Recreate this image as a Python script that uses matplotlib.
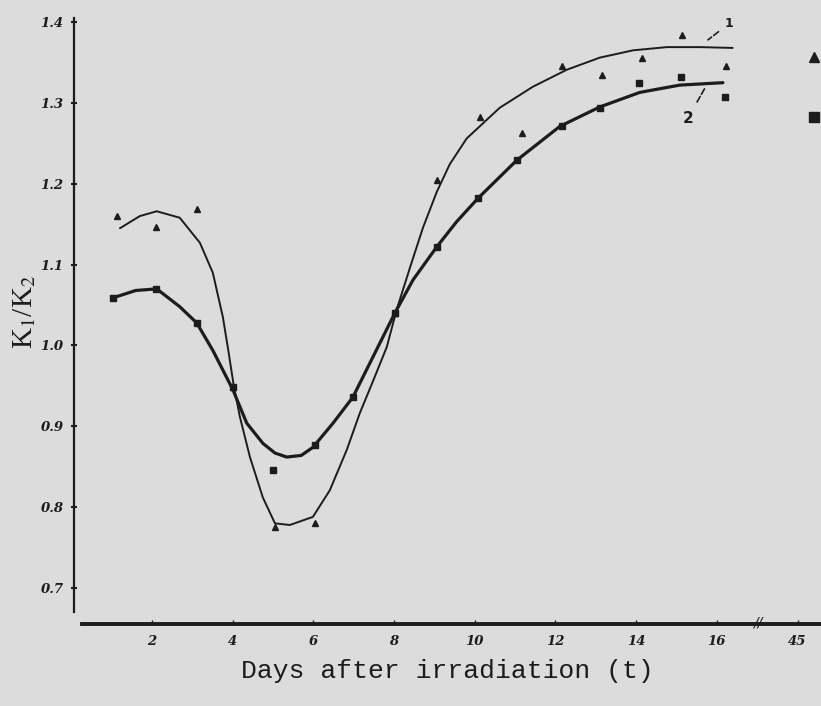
import matplotlib.pyplot as plt
from matplotlib.lines import Line2D

# measured points (days after irradiation, K1/K2)
days1 = [1.13, 2.10, 3.11, 4.01, 5.05, 6.04, 8.02, 9.06, 10.13, 11.17, 12.16, 13.15, 14.14, 15.13, 16.22]
vals1 = [1.160, 1.146, 1.169, 0.949, 0.775, 0.780, 1.040, 1.205, 1.283, 1.263, 1.346, 1.334, 1.355, 1.384, 1.346]

days2 = [1.04, 2.10, 3.11, 4.01, 5.00, 6.04, 6.98, 8.02, 9.06, 10.08, 11.04, 12.16, 13.10, 14.07, 15.11, 16.19]
vals2 = [1.059, 1.070, 1.028, 0.949, 0.846, 0.877, 0.936, 1.040, 1.122, 1.182, 1.229, 1.271, 1.294, 1.325, 1.332, 1.307]

# hand drawn curves
curve1_days = [1.21, 1.70, 2.12, 2.69, 3.19, 3.51, 3.76, 3.90, 4.03, 4.18, 4.43, 4.75, 5.05, 5.42,
               5.99, 6.41, 6.83, 7.15, 7.48, 7.82, 8.07, 8.40, 8.72, 9.06, 9.38, 9.80, 10.62,
               11.44, 12.28, 13.10, 13.92, 14.76, 15.58, 16.39]
curve1_vals = [1.145, 1.160, 1.166, 1.158, 1.127, 1.090, 1.035, 0.992, 0.950, 0.912, 0.862, 0.812,
               0.780, 0.778, 0.788, 0.821, 0.871, 0.916, 0.956, 0.998, 1.045, 1.097, 1.146, 1.190,
               1.224, 1.256, 1.294, 1.320, 1.341, 1.356, 1.365, 1.369, 1.369, 1.368]

curve2_days = [1.04, 1.6, 2.12, 2.69, 3.11, 3.51, 4.01, 4.35, 4.75, 5.05, 5.34, 5.70, 5.99, 6.49,
               6.98, 7.48, 8.02, 8.47, 9.06, 9.55, 10.08, 11.04, 12.11, 13.10, 14.09, 15.08, 16.15]
curve2_vals = [1.059, 1.068, 1.070, 1.048, 1.028, 0.994, 0.945, 0.904, 0.879, 0.867, 0.862, 0.864,
               0.874, 0.904, 0.936, 0.986, 1.040, 1.081, 1.122, 1.153, 1.182, 1.229, 1.271, 1.295,
               1.313, 1.322, 1.325]

xticks = [2, 4, 6, 8, 10, 12, 14, 16, 18]
xtick_labels = ['2', '4', '6', '8', '10', '12', '14', '16', '45']
yticks = [0.7, 0.8, 0.9, 1.0, 1.1, 1.2, 1.3, 1.4]
ytick_labels = ['0.7', '0.8', '0.9', '1.0', '1.1', '1.2', '1.3', '1.4']

ink = '#1c1c1c'
paper = '#dcdcdc'

plt.rcParams['mathtext.fontset'] = 'stix'

fig = plt.figure(figsize=(8.21, 7.06), dpi=100, facecolor=paper)
ax = fig.add_axes([0.0901, 0.1161, 0.9099, 0.8584])
ax.set_facecolor(paper)

ax.plot(curve1_days, curve1_vals, color=ink, lw=1.4, solid_capstyle='round', solid_joinstyle='round')
ax.plot(curve2_days, curve2_vals, color=ink, lw=2.3, solid_capstyle='round', solid_joinstyle='round')
ax.plot(days1, vals1, ls='', marker='^', ms=4.5, color=ink)
ax.plot(days2, vals2, ls='', marker='s', ms=3.8, color=ink)

# curve numbers with dashed leaders
ax.annotate('1', xy=(15.78, 1.378), xytext=(16.3, 1.398), fontsize=9, fontweight='bold',
            color=ink, ha='center', va='center',
            arrowprops=dict(arrowstyle='-', ls='--', color=ink, lw=1.2, shrinkA=3, shrinkB=0))
ax.annotate('2', xy=(15.70, 1.318), xytext=(15.28, 1.281), fontsize=11, fontweight='bold',
            color=ink, ha='center', va='center',
            arrowprops=dict(arrowstyle='-', ls='--', color=ink, lw=1.2, shrinkA=5, shrinkB=0))

ax.set_xlim(0.07, 18.58)
ax.set_ylim(0.6555, 1.405)

for s in ['top', 'right']:
    ax.spines[s].set_visible(False)
ax.spines['left'].set_bounds(0.67, 1.405)
ax.spines['left'].set_linewidth(1.6)
ax.spines['left'].set_color(ink)
ax.spines['bottom'].set_bounds(0.27, 18.58)
ax.spines['bottom'].set_linewidth(2.8)
ax.spines['bottom'].set_color(ink)

ax.set_xticks(xticks)
ax.set_xticklabels(xtick_labels, fontsize=9.5, fontstyle='italic', fontweight='bold',
                   family='DejaVu Serif')
ax.set_yticks(yticks)
ax.set_yticklabels(ytick_labels, fontsize=9.5, fontstyle='italic', fontweight='bold',
                   family='DejaVu Serif')
ax.tick_params(axis='x', direction='in', length=3, width=1, colors=ink, pad=8)
ax.tick_params(axis='y', direction='inout', length=5, width=1.5, colors=ink, pad=5)

# axis break mark
ax.text(17.0, 0.658, '//', fontsize=10, fontstyle='italic', color=ink, ha='center', va='center')

ax.set_xlabel('Days after irradiation (t)', family='Liberation Mono', fontsize=19,
              color=ink, labelpad=8)
ax.set_ylabel('K$_1$/K$_2$', family='Liberation Serif', fontsize=21, color=ink)
ax.yaxis.set_label_coords(-0.048, 0.515)

# key symbols at the right edge (legend text is cut off in the scan)
handles = [Line2D([], [], ls='', marker='^', ms=7, color=ink),
           Line2D([], [], ls='', marker='s', ms=7, color=ink)]
ax.legend(handles, ['', ''], loc='center', bbox_to_anchor=(0.99, 0.885), frameon=False,
          handlelength=1, handletextpad=0, labelspacing=3.3, fontsize=10, borderpad=0)

plt.savefig('out.png', dpi=100, facecolor=paper)
